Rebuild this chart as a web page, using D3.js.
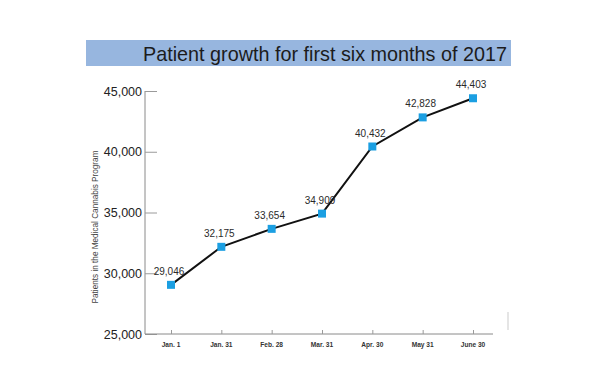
<!DOCTYPE html>
<html>
<head>
<meta charset="utf-8">
<script src="https://cdn.jsdelivr.net/npm/d3@7/dist/d3.min.js"></script>
<style>
  html, body { margin: 0; padding: 0; background: #fff; }
  svg { display: block; font-family: "Liberation Sans", Arial, Helvetica, sans-serif; }
</style>
</head>
<body>
<svg id="chart" width="600" height="390"></svg>
<script>
const titleText = "Patient growth for first six months of 2017";
const yAxisTitle = "Patients in the Medical Cannabis Program";
const categories = ["Jan. 1", "Jan. 31", "Feb. 28", "Mar. 31", "Apr. 30", "May 31", "June 30"];
const patients = [29046, 32175, 33654, 34909, 40432, 42828, 44403];
const yTicks = [25000, 30000, 35000, 40000, 45000];

const svg = d3.select("#chart");

// Title band
svg.append("rect")
  .attr("x", 86).attr("y", 40).attr("width", 425).attr("height", 26)
  .attr("fill", "#97b6df");
svg.append("text")
  .attr("x", 143).attr("y", 61)
  .attr("font-size", 21)
  .attr("textLength", 364)
  .attr("lengthAdjust", "spacingAndGlyphs")
  .attr("fill", "#1c1c1c")
  .text(titleText);

const x = d3.scalePoint().domain(categories).range([171, 473]);
const y = d3.scaleLinear().domain([25000, 45000]).range([334, 91]);

// Y axis
const yAxis = svg.append("g")
  .attr("transform", "translate(145,0)")
  .call(d3.axisRight(y).tickValues(yTicks).tickSize(12).tickFormat(""));
yAxis.select(".domain").attr("stroke", "#8a8a8a").attr("d", `M0,${y(45000)}V${y(25000)}`);
yAxis.selectAll(".tick line").attr("stroke", "#9a9a9a");

svg.append("g").selectAll("text")
  .data(yTicks).join("text")
  .attr("x", 142).attr("y", d => y(d) + 4.5)
  .attr("text-anchor", "end")
  .attr("font-size", 12.5)
  .attr("fill", "#222")
  .text(d => d3.format(",")(d));

// X axis
const xAxis = svg.append("g")
  .attr("transform", `translate(0,${y(25000)})`)
  .call(d3.axisTop(x).tickSize(4).tickFormat(""));
xAxis.select(".domain").attr("stroke", "#8a8a8a").attr("d", "M145,0H493");
xAxis.selectAll(".tick line").attr("stroke", "#9a9a9a");

svg.append("g").selectAll("text")
  .data(categories).join("text")
  .attr("x", d => x(d)).attr("y", 346.5)
  .attr("text-anchor", "middle")
  .attr("font-size", 6.6)
  .attr("font-weight", "bold")
  .attr("fill", "#333")
  .text(d => d);

// small gray mark at right
svg.append("line")
  .attr("x1", 508).attr("x2", 508).attr("y1", 312).attr("y2", 330)
  .attr("stroke", "#dcdcdc").attr("stroke-width", 1.5);

// Y axis title
svg.append("text")
  .attr("transform", "translate(98,227) rotate(-90)")
  .attr("text-anchor", "middle")
  .attr("font-size", 8.2)
  .attr("fill", "#444")
  .text(yAxisTitle);

// Line
const line = d3.line().x((d, i) => x(categories[i])).y(d => y(d));
svg.append("path")
  .datum(patients)
  .attr("d", line)
  .attr("fill", "none")
  .attr("stroke", "#111")
  .attr("stroke-width", 2);

// Markers
svg.append("g").selectAll("rect")
  .data(patients).join("rect")
  .attr("x", (d, i) => x(categories[i]) - 4)
  .attr("y", d => y(d) - 4)
  .attr("width", 8).attr("height", 8)
  .attr("fill", "#1b9fe2");

// Value labels
svg.append("g").selectAll("text")
  .data(patients).join("text")
  .attr("x", (d, i) => x(categories[i]) - 2)
  .attr("y", d => y(d) - 10)
  .attr("text-anchor", "middle")
  .attr("font-size", 10)
  .attr("fill", "#2a2a2a")
  .text(d => d3.format(",")(d));
</script>
</body>
</html>
